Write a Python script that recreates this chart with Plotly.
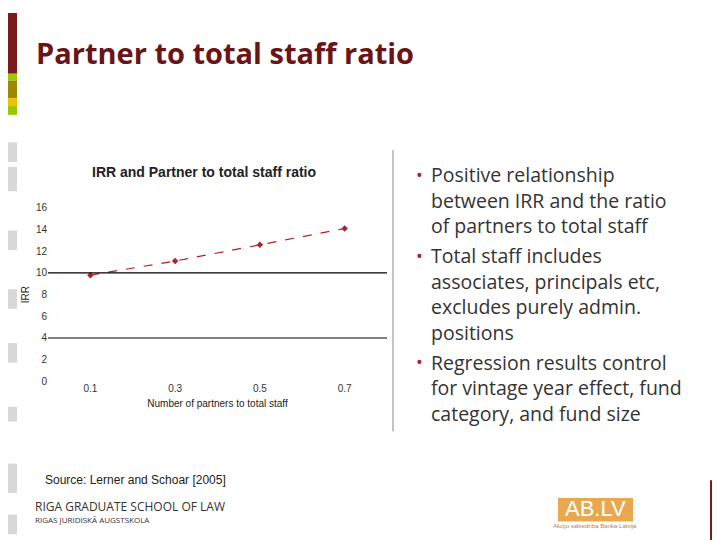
import plotly.graph_objects as go

ratio = [0.1, 0.3, 0.5, 0.7]
irr = [9.8, 11.1, 12.6, 14.1]
yticks = [0, 2, 4, 6, 8, 10, 12, 14, 16]
xticks = [0.1, 0.3, 0.5, 0.7]
bullets = [
    ["Positive relationship", "between IRR and the ratio", "of partners to total staff"],
    ["Total staff includes", "associates, principals etc,", "excludes purely admin.", "positions"],
    ["Regression results control", "for vintage year effect, fund", "category, and fund size"],
]

W, H = 720, 540
OFF = 8
def px(x): return (x - OFF) / W
def py(y): return 1 - (y - OFF) / H

fig = go.Figure()
fig.add_trace(go.Scatter(x=ratio, y=irr, mode="lines+markers",
    line=dict(color="#b0202a", width=1.2, dash="dash"),
    marker=dict(color="#b0202a", size=5, symbol="diamond"), showlegend=False))

shapes = []
for yv in [10, 4]:
    shapes.append(dict(type="line", xref="x", yref="y", x0=0, x1=0.8, y0=yv, y1=yv,
                       line=dict(color="black", width=1.2)))
def rect(x0, y0, x1, y1, c):
    shapes.append(dict(type="rect", xref="paper", yref="paper", x0=px(x0), x1=px(x1),
                       y0=py(y1), y1=py(y0), fillcolor=c, line=dict(width=0), layer="below"))
L0, L1 = 8, 17
rect(L0, 8, L1, 70, "#7a1a1c")
rect(L0, 70, L1, 77, "#9dc800")
rect(L0, 77, L1, 95, "#9a8a00")
rect(L0, 95, L1, 103, "#f5c000")
rect(L0, 103, L1, 112, "#9dc800")
for y0, y1 in [(140, 160), (165, 190), (230, 250), (290, 310), (345, 365), (410, 425), (468, 498), (520, 540)]:
    rect(L0, y0, L1, y1, "#d8d8d8")
rect(710, 485, 720, 548, "#7a1a1c")
rect(558, 503, 633, 527, "#e8a850")
shapes.append(dict(type="line", xref="paper", yref="paper", x0=px(393), x1=px(393),
                   y0=py(148), y1=py(435), line=dict(color="#888888", width=1)))

ann = []
def A(text, x, y, size, color, family="Open Sans", xanchor="left"):
    ann.append(dict(text=text, x=px(x), y=py(y), xref="paper", yref="paper",
                    xanchor=xanchor, yanchor="middle", showarrow=False,
                    font=dict(family=family, size=size, color=color)))
A("<b>Partner to total staff ratio</b>", 34, 48, 29, "#6a1416")
A("<b>IRR and Partner to total staff ratio</b>", 204, 170, 14, "#222",
  "Liberation Sans Narrow, Liberation Sans", "center")
A("Source: Lerner and Schoar [2005]", 43, 485, 12, "#222", "Liberation Sans")
A("RIGA GRADUATE SCHOOL OF LAW", 33, 512, 12, "#333")
A("RIGAS JURIDISKĀ AUGSTSKOLA", 33, 525, 8, "#333")
A("AB.LV", 595, 514, 22, "white", "Liberation Sans", "center")
A("Akciju sabiedrība Banka Latvija", 595, 532, 6, "#c08040", "Liberation Sans", "center")
y = 173
for b in bullets:
    A("•", 414, y, 18, "#b0202a")
    for line in b:
        A(line, 429, y, 19.5, "#333")
        y += 26.2
    y += 4

fig.update_layout(
    width=W, height=H, margin=dict(l=0, r=0, t=0, b=0),
    paper_bgcolor="white", plot_bgcolor="white",
    shapes=shapes, annotations=ann,
    xaxis=dict(domain=[px(48), px(387)], range=[0, 0.8], tickvals=xticks,
               ticktext=[str(v) for v in xticks], showgrid=False, zeroline=False, showline=False,
               tickfont=dict(family="Liberation Sans Narrow, Liberation Sans", size=10, color="#333"),
               ticks="", title=dict(text="Number of partners to total staff", standoff=6,
                                    font=dict(family="Liberation Sans Narrow, Liberation Sans", size=10, color="#222"))),
    yaxis=dict(domain=[py(384), py(207)], range=[0, 16], tickvals=yticks, showgrid=False,
               zeroline=False, showline=False, ticks="",
               tickfont=dict(family="Liberation Sans Narrow, Liberation Sans", size=10, color="#333"),
               title=dict(text="IRR", standoff=4,
                          font=dict(family="Liberation Sans Narrow, Liberation Sans", size=10, color="#222"))),
)
fig.write_html("out.html")
